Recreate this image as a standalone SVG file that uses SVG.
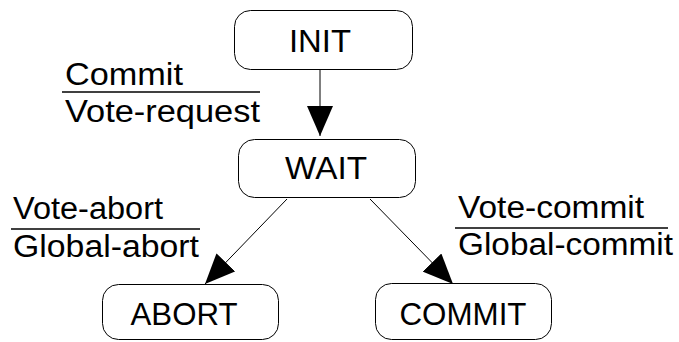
<svg xmlns="http://www.w3.org/2000/svg" width="679" height="342" viewBox="0 0 679 342">
  <style>
    .state { fill: #ffffff; stroke: #000000; stroke-width: 1; }
    .name { font-family: "Liberation Sans", Arial, sans-serif; font-size: 31px; fill: #000000; text-anchor: middle; }
    .label { font-family: "Liberation Sans", Arial, sans-serif; font-size: 31px; fill: #000000; }
    .rule { stroke: #000000; stroke-width: 1.5; }
    .edge { stroke: #000000; stroke-width: 1; fill: none; marker-end: url(#head); }
  </style>
  <defs>
    <marker id="head" viewBox="0 0 30 26" refX="30" refY="13" markerWidth="30" markerHeight="26" markerUnits="userSpaceOnUse" orient="auto">
      <path d="M0,0 L30,13 L0,26 Z" fill="#000000"/>
    </marker>
  </defs>

  <rect width="679" height="342" fill="#ffffff"/>

  <g id="connectors">
    <line class="edge" x1="320" y1="70" x2="320" y2="136"/>
    <line class="edge" x1="287" y1="199" x2="205" y2="284"/>
    <line class="edge" x1="370" y1="199" x2="453" y2="284"/>
  </g>

  <g id="init">
    <rect class="state" x="234.5" y="10.5" width="178" height="59" rx="16"/>
    <text class="name" x="320" y="52" textLength="62" lengthAdjust="spacingAndGlyphs">INIT</text>
  </g>

  <g id="wait">
    <rect class="state" x="238.5" y="139.5" width="177" height="58" rx="16"/>
    <text class="name" x="326" y="179" textLength="82" lengthAdjust="spacingAndGlyphs">WAIT</text>
  </g>

  <g id="abort">
    <rect class="state" x="102.5" y="284.5" width="176" height="55" rx="16"/>
    <text class="name" x="184" y="325" textLength="107" lengthAdjust="spacingAndGlyphs">ABORT</text>
  </g>

  <g id="commit">
    <rect class="state" x="375.5" y="283.5" width="176" height="56" rx="16"/>
    <text class="name" x="463" y="325" textLength="127" lengthAdjust="spacingAndGlyphs">COMMIT</text>
  </g>

  <g id="label-commit">
    <text class="label" x="65" y="85" textLength="118" lengthAdjust="spacingAndGlyphs">Commit</text>
    <line class="rule" x1="62" y1="92" x2="260" y2="92"/>
    <text class="label" x="65" y="122" textLength="195" lengthAdjust="spacingAndGlyphs">Vote-request</text>
  </g>

  <g id="label-abort">
    <text class="label" x="13" y="219" textLength="150" lengthAdjust="spacingAndGlyphs">Vote-abort</text>
    <line class="rule" x1="11" y1="229" x2="200" y2="229"/>
    <text class="label" x="13" y="257" textLength="186" lengthAdjust="spacingAndGlyphs">Global-abort</text>
  </g>

  <g id="label-global-commit">
    <text class="label" x="458" y="218" textLength="186" lengthAdjust="spacingAndGlyphs">Vote-commit</text>
    <line class="rule" x1="455" y1="228" x2="668" y2="228"/>
    <text class="label" x="458" y="255" textLength="215" lengthAdjust="spacingAndGlyphs">Global-commit</text>
  </g>
</svg>
